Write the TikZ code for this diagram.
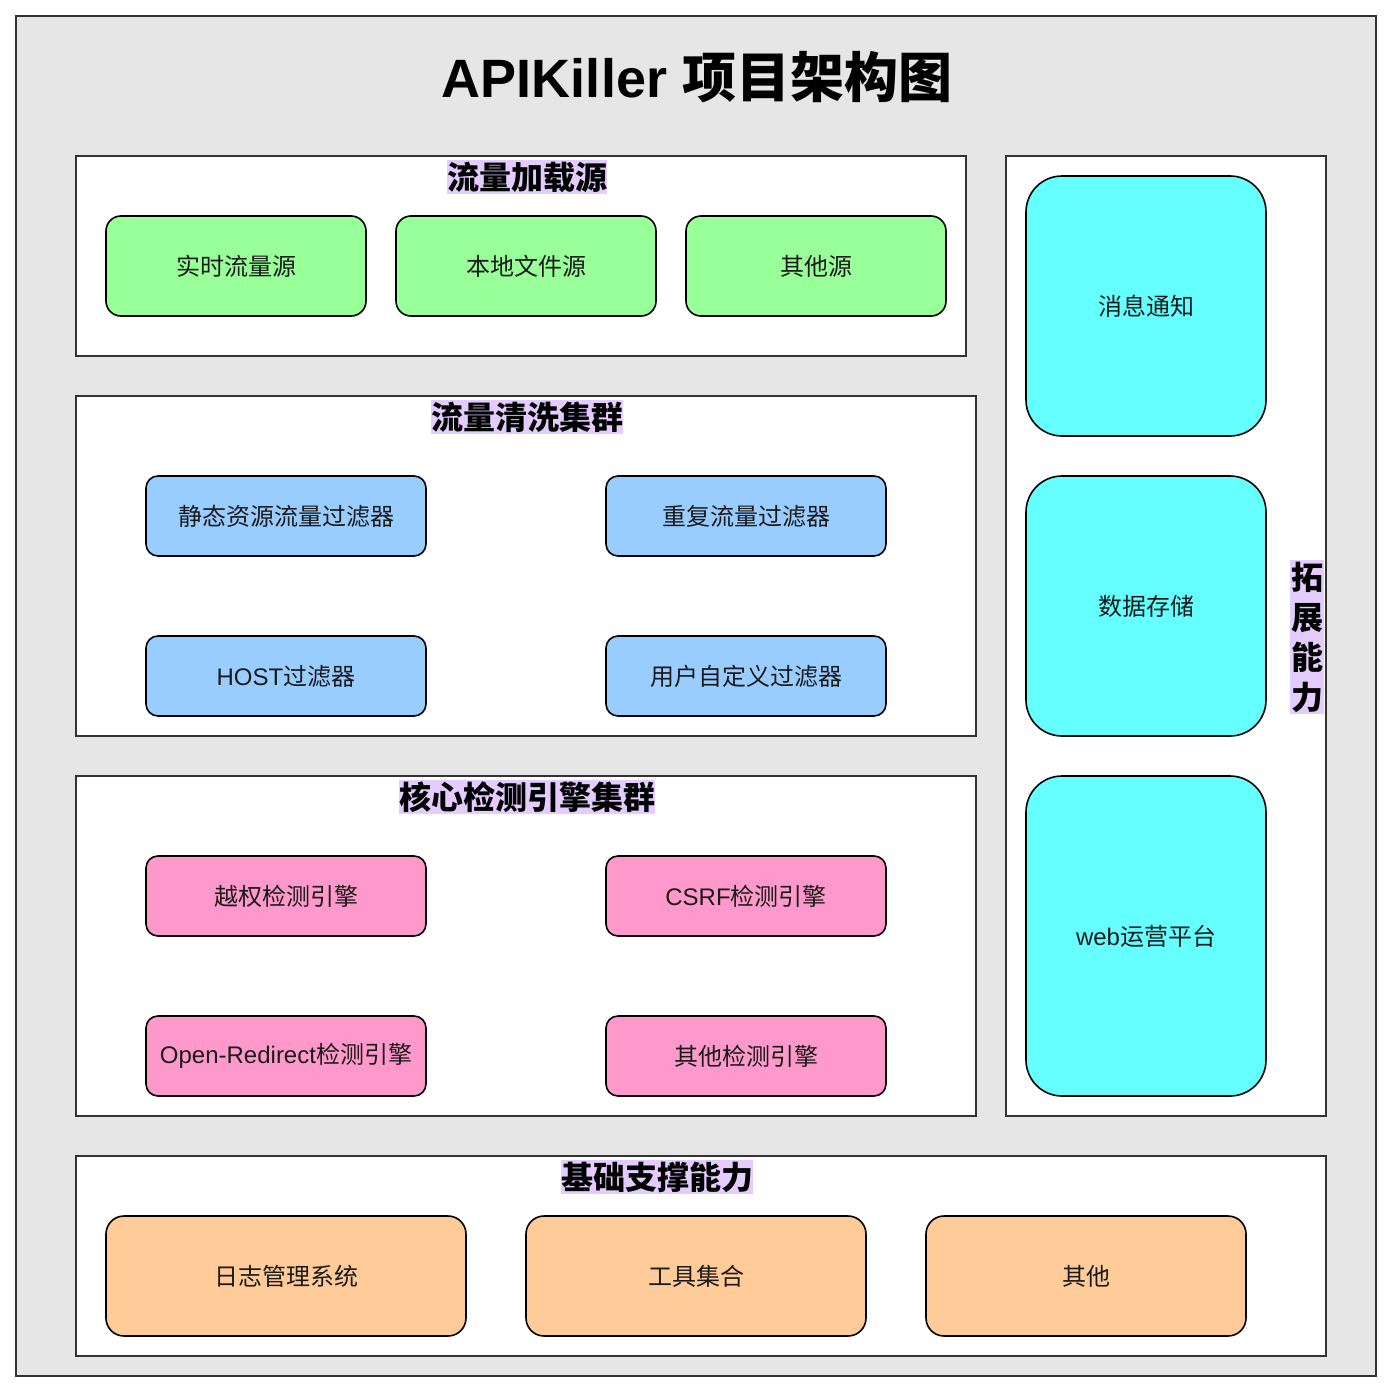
\documentclass[tikz,border=0pt]{standalone}
\usepackage{fontspec}
\setmainfont{Liberation Sans}
\newfontfamily\cjk{Noto Sans CJK SC}
\definecolor{bggray}{HTML}{E6E6E6}
\definecolor{framec}{HTML}{333333}
\definecolor{lav}{HTML}{E5CCFF}
\definecolor{gfill}{HTML}{99FF99}
\definecolor{bfill}{HTML}{99CCFF}
\definecolor{pfill}{HTML}{FF99CC}
\definecolor{ofill}{HTML}{FFCC99}
\definecolor{cfill}{HTML}{66FFFF}
\definecolor{txt}{HTML}{1A1A1A}
\tikzset{
  cont/.style={draw=framec, line width=2pt, fill=white},
  grouptitle/.style={fill=lav, inner xsep=0pt, inner ysep=2pt, font=\fontsize{32}{36}\selectfont\cjk\bfseries, text=black},
  itembox/.style={draw=black, line width=1.6pt},
  cjklabel/.style={font=\fontsize{24}{28}\selectfont\cjk, text=txt},
  mixlabel/.style={font=\fontsize{24}{28}\selectfont, text=txt},
}
\begin{document}
\begin{tikzpicture}[x=1pt,y=-1pt]
\useasboundingbox (0,0) rectangle (1394,1394);
\fill[white] (0,0) rectangle (1394,1394);
% outer
\draw[draw=framec, line width=2pt, fill=bggray] (16,16) rectangle (1376,1376);
\node (title) at (697,77) {\fontsize{54}{60}\selectfont\bfseries APIKiller {\cjk 项目架构图}};

% containers
\draw[cont] (76,156) rectangle (966,356);
\draw[cont] (76,396) rectangle (976,736);
\draw[cont] (76,776) rectangle (976,1116);
\draw[cont] (1006,156) rectangle (1326,1116);
\draw[cont] (76,1156) rectangle (1326,1356);

% container titles
\node[grouptitle] (t1) at (527,177) {流量加载源};
\node[grouptitle] (t2) at (527,417) {流量清洗集群};
\node[grouptitle] (t3) at (527,797) {核心检测引擎集群};
\node[grouptitle] (t5) at (657,1177) {基础支撑能力};
\node[grouptitle, align=center, inner xsep=1pt, inner ysep=1.5pt, font=\fontsize{32}{40}\selectfont\cjk\bfseries] (t4) at (1307,637) {拓\\展\\能\\力};

% green
\draw[itembox, fill=gfill, rounded corners=15pt] (106,216) rectangle (366,316);
\draw[itembox, fill=gfill, rounded corners=15pt] (396,216) rectangle (656,316);
\draw[itembox, fill=gfill, rounded corners=15pt] (686,216) rectangle (946,316);
\node[cjklabel] (g1) at (236,266) {实时流量源};
\node[cjklabel] (g2) at (526,266) {本地文件源};
\node[cjklabel] (g3) at (816,266) {其他源};

% blue
\draw[itembox, fill=bfill, rounded corners=12pt] (146,476) rectangle (426,556);
\draw[itembox, fill=bfill, rounded corners=12pt] (606,476) rectangle (886,556);
\draw[itembox, fill=bfill, rounded corners=12pt] (146,636) rectangle (426,716);
\draw[itembox, fill=bfill, rounded corners=12pt] (606,636) rectangle (886,716);
\node[cjklabel] (b1) at (286,516) {静态资源流量过滤器};
\node[cjklabel] (b2) at (746,516) {重复流量过滤器};
\node[mixlabel] (b3) at (286,676) {HOST{\cjk 过滤器}};
\node[cjklabel] (b4) at (746,676) {用户自定义过滤器};

% pink
\draw[itembox, fill=pfill, rounded corners=12pt] (146,856) rectangle (426,936);
\draw[itembox, fill=pfill, rounded corners=12pt] (606,856) rectangle (886,936);
\draw[itembox, fill=pfill, rounded corners=12pt] (146,1016) rectangle (426,1096);
\draw[itembox, fill=pfill, rounded corners=12pt] (606,1016) rectangle (886,1096);
\node[cjklabel] (p1) at (286,896) {越权检测引擎};
\node[mixlabel] (p2) at (746,896) {CSRF{\cjk 检测引擎}};
\node[mixlabel] (p3) at (286,1056) {Open-Redirect{\cjk 检测引擎}};
\node[cjklabel] (p4) at (746,1056) {其他检测引擎};

% cyan
\draw[itembox, fill=cfill, rounded corners=36pt] (1026,176) rectangle (1266,436);
\draw[itembox, fill=cfill, rounded corners=36pt] (1026,476) rectangle (1266,736);
\draw[itembox, fill=cfill, rounded corners=36pt] (1026,776) rectangle (1266,1096);
\node[cjklabel] (c1) at (1146,306) {消息通知};
\node[cjklabel] (c2) at (1146,606) {数据存储};
\node[mixlabel] (c3) at (1146,936) {web{\cjk 运营平台}};

% orange
\draw[itembox, fill=ofill, rounded corners=18pt] (106,1216) rectangle (466,1336);
\draw[itembox, fill=ofill, rounded corners=18pt] (526,1216) rectangle (866,1336);
\draw[itembox, fill=ofill, rounded corners=18pt] (926,1216) rectangle (1246,1336);
\node[cjklabel] (o1) at (286,1276) {日志管理系统};
\node[cjklabel] (o2) at (696,1276) {工具集合};
\node[cjklabel] (o3) at (1086,1276) {其他};
\end{tikzpicture}
\end{document}
